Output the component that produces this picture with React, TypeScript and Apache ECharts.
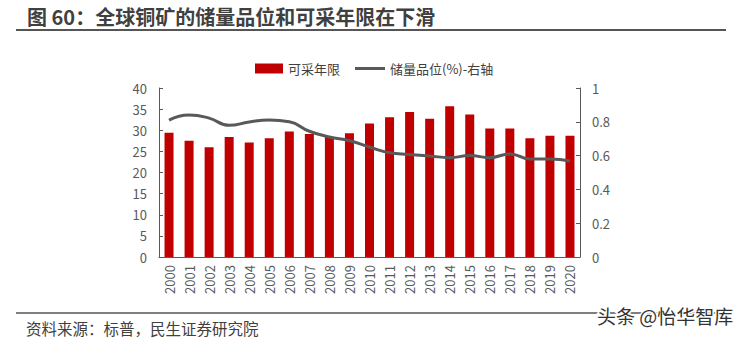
import React, { useEffect, useRef } from "react";
import * as echarts from "echarts";

const years = ["2000","2001","2002","2003","2004","2005","2006","2007","2008","2009","2010","2011","2012","2013","2014","2015","2016","2017","2018","2019","2020"];
const reserveLife = [29.4, 27.5, 26.0, 28.4, 27.1, 28.1, 29.7, 29.1, 28.4, 29.3, 31.6, 33.1, 34.3, 32.7, 35.7, 33.7, 30.4, 30.4, 28.1, 28.7, 28.7];
const oreGrade = [0.81, 0.84, 0.822, 0.779, 0.799, 0.81, 0.80, 0.744, 0.71, 0.688, 0.651, 0.617, 0.607, 0.598, 0.588, 0.60, 0.588, 0.61, 0.58, 0.58, 0.568];
const leftTicks = [0, 40];
const rightTicks = [0, 1];

const FONT = "'Noto Sans CJK SC', 'Noto Sans', sans-serif";

export default function App() {
  const ref = useRef<HTMLDivElement>(null);
  useEffect(() => {
    if (!ref.current) return;
    const chart = echarts.init(ref.current, null, { renderer: "svg" });
    const legendText = { fontFamily: FONT, fontSize: 13, color: "#404040" };
    chart.setOption({
      animation: false,
      backgroundColor: "#ffffff",
      textStyle: { fontFamily: FONT },
      title: {
        text: "图 60：全球铜矿的储量品位和可采年限在下滑",
        left: 22,
        top: 1,
        textStyle: { fontFamily: FONT, fontSize: 20, fontWeight: "bold", color: "#404040" },
      },
      graphic: [
        { type: "line", shape: { x1: 16, y1: 30, x2: 726, y2: 30 }, style: { stroke: "#555555", lineWidth: 2 } },
        { type: "line", shape: { x1: 16, y1: 313, x2: 726, y2: 313 }, style: { stroke: "#555555", lineWidth: 1.5 } },
        { type: "text", x: 26, y: 320, style: { text: "资料来源：标普，民生证券研究院", font: `15.5px ${FONT}`, fill: "#404040" } },
        { type: "text", x: 597, y: 306, style: { text: "头条 @怡华智库", font: `19px ${FONT}`, fill: "#333333", stroke: "#ffffff", lineWidth: 3 } },
      ],
      legend: [
        {
          left: 250,
          top: 57,
          itemWidth: 28,
          itemHeight: 10,
          textStyle: legendText,
          data: [{ name: "可采年限", icon: "rect" }],
        },
        {
          left: 350,
          top: 57,
          itemWidth: 30,
          itemHeight: 3,
          textStyle: legendText,
          data: [{ name: "储量品位(%)-右轴", icon: "rect" }],
        },
      ],
      grid: { left: 159, right: 164, top: 88, bottom: 82 },
      xAxis: {
        type: "category",
        data: years,
        axisLine: { lineStyle: { color: "#595959", width: 1 } },
        axisTick: { show: false },
        axisLabel: { rotate: 90, color: "#595959", fontSize: 13, fontFamily: FONT, margin: 8 },
      },
      yAxis: [
        {
          type: "value",
          min: leftTicks[0],
          max: leftTicks[1],
          interval: 5,
          splitLine: { show: false },
          axisLine: { show: true, lineStyle: { color: "#595959" } },
          axisTick: { show: true, inside: true, length: 4, lineStyle: { color: "#595959" } },
          axisLabel: { color: "#595959", fontSize: 13, fontFamily: FONT, margin: 12 },
        },
        {
          type: "value",
          min: rightTicks[0],
          max: rightTicks[1],
          interval: 0.2,
          splitLine: { show: false },
          axisLine: { show: true, lineStyle: { color: "#595959" } },
          axisTick: { show: true, inside: true, length: 4, lineStyle: { color: "#595959" } },
          axisLabel: { color: "#595959", fontSize: 13, fontFamily: FONT, margin: 12 },
        },
      ],
      series: [
        {
          name: "可采年限",
          type: "bar",
          data: reserveLife,
          barWidth: 9,
          itemStyle: { color: "#C00000" },
        },
        {
          name: "储量品位(%)-右轴",
          type: "line",
          yAxisIndex: 1,
          data: oreGrade,
          smooth: true,
          showSymbol: false,
          symbol: "none",
          lineStyle: { color: "#595959", width: 3 },
          itemStyle: { color: "#595959" },
        },
      ],
    });
    return () => chart.dispose();
  }, []);
  return <div ref={ref} style={{ position: "fixed", left: 0, top: 0, width: 744, height: 339 }} />;
}
